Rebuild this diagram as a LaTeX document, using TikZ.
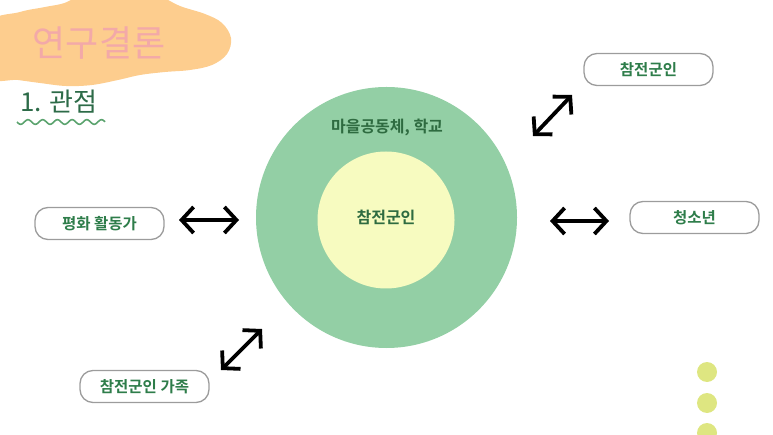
\documentclass[tikz,border=0pt]{standalone}
\usepackage{fontspec}
\setmainfont{Noto Sans CJK KR}[BoldFont={Noto Sans CJK KR Bold}]
\usetikzlibrary{arrows.meta}
\definecolor{outergreen}{HTML}{93CFA5}
\definecolor{inneryellow}{HTML}{F7FBC0}
\definecolor{circtext}{HTML}{2E6B40}
\definecolor{boxtext}{HTML}{2E7D4A}
\definecolor{titlepink}{HTML}{F3A9A8}
\definecolor{blob}{HTML}{FDCD8E}
\definecolor{headgreen}{HTML}{2D6B48}
\definecolor{wavegreen}{HTML}{5BA36E}
\definecolor{dotcol}{HTML}{DEE681}
\definecolor{boxline}{HTML}{9C9C9C}
\tikzset{
  labelbox/.style={draw=boxline, line width=1.3pt, rounded corners=13pt, fill=white,
    minimum width=129pt, minimum height=32pt, inner sep=0pt, text=boxtext,
    font=\fontsize{15.5pt}{17pt}\selectfont\bfseries},
  dblarrow/.style={line width=3.8pt, black,
    {Straight Barb[length=12pt,width=26pt]}-{Straight Barb[length=12pt,width=26pt]}},
  dotstyle/.style={circle, fill=dotcol, minimum size=20pt, inner sep=0pt}
}
\begin{document}
\begin{tikzpicture}[x=1pt,y=-1pt]
\useasboundingbox (0,0) rectangle (773,435);
% title blob
\fill[blob] plot[smooth cycle, tension=0.6] coordinates {
  (-12,24) (20,12) (45,7) (67,2) (90,-12) (125,-18) (160,-4) (180,6)
  (205,14) (222,23) (231,38) (227,54) (212,65) (190,70) (165,72) (140,75)
  (118,80) (92,85) (66,86) (40,83) (18,80) (-12,76)};
\node[text=titlepink, font=\fontsize{36pt}{38pt}\selectfont] (title) at (99,43) {연구결론};
\node[text=headgreen, anchor=west, font=\fontsize{26pt}{28pt}\selectfont, inner sep=0pt] (head) at (20,102) {1. 관점};
\draw[wavegreen, line width=1.6pt] plot[domain=0:88, samples=120] ({17+\x},{122+2.3*sin(\x*24.49)});
% circles
\node[circle, fill=outergreen, minimum size=261pt, inner sep=0pt] (outer) at (386.5,217.5) {};
\node[circle, fill=inneryellow, minimum size=137pt, inner sep=0pt] (inner) at (386,220) {};
\node[text=circtext, font=\fontsize{16pt}{18pt}\selectfont\bfseries] (innerlbl) at (386,217) {참전군인};
\node[text=circtext, font=\fontsize{16pt}{18pt}\selectfont\bfseries] (outerlbl) at (387,127) {마을공동체, 학교};
% boxes
\node[labelbox] (vet) at (648.5,69.5) {참전군인};
\node[labelbox] (peace) at (99.5,223.5) {평화 활동가};
\node[labelbox] (youth) at (694.5,217.5) {청소년};
\node[labelbox] (family) at (144.5,386.5) {참전군인 가족};
% arrows
\coordinate (l1) at (179,220);
\coordinate (l2) at (239,220);
\coordinate (r1) at (550,221);
\coordinate (r2) at (609,221);
\coordinate (t1) at (533,136);
\coordinate (t2) at (572,95);
\coordinate (b1) at (221,370);
\coordinate (b2) at (262,329);
\draw[dblarrow] (l1) -- (l2);
\draw[dblarrow] (r1) -- (r2);
\draw[dblarrow] (t1) -- (t2);
\draw[dblarrow] (b1) -- (b2);
% dots
\node[dotstyle] (d1) at (707,372) {};
\node[dotstyle] (d2) at (707,403) {};
\node[dotstyle] (d3) at (707,433) {};
\end{tikzpicture}
\end{document}
